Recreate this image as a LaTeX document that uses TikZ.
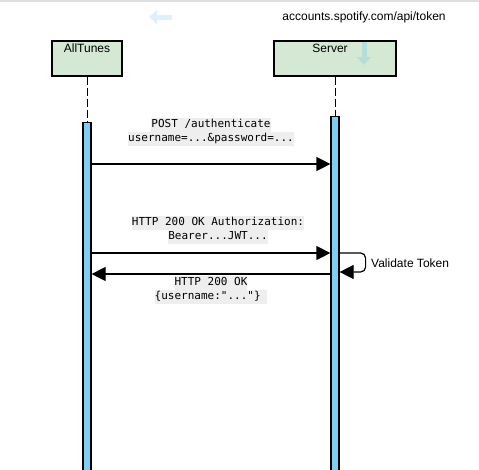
\documentclass[tikz,border=0pt]{standalone}
\usepackage{fontspec}
\setmainfont{Liberation Sans}
\setmonofont{DejaVu Sans Mono}
\usetikzlibrary{arrows.meta, positioning}
\definecolor{actorgreen}{HTML}{D5E8D4}
\definecolor{barblue}{HTML}{7ECEF4}
\definecolor{labelbg}{HTML}{EEEEEE}
\definecolor{hintblue}{HTML}{DDF0FB}
\definecolor{hintteal}{HTML}{B5DFD6}
\setlength{\fboxsep}{0pt}
\newcommand{\msglabel}[1]{\colorbox{labelbg}{\strut #1}}

\begin{document}
\begin{tikzpicture}[x=1pt, y=-1pt,
  actor/.style={draw, line width=1.2pt, fill=actorgreen, minimum width=#1, minimum height=35pt, inner sep=0pt},
  lifebar/.style={draw, line width=1.2pt, fill=barblue, minimum width=8pt, minimum height=370pt, inner sep=0pt, anchor=north},
  msg/.style={line width=1.2pt, -{Triangle[length=14pt, width=14pt]}},
  msgtext/.style={font=\ttfamily\fontsize{11}{14}\selectfont, align=center, inner sep=0pt},
  plain/.style={font=\fontsize{12}{14}\selectfont, inner sep=0pt}]
  \useasboundingbox (0,0) rectangle (479,469);
  \clip (0,0) rectangle (479,469);

  % top edge + faint drag hints
  \draw[gray!25, line width=2pt] (0,1) -- (479,1);
  \draw[hintblue, line width=5pt, -{Triangle[length=8pt, width=14pt]}] (172,17) -- (149,17);

  % Actors
  \node[actor=70pt] (alltunes) at (87,58.5) {};
  \node[actor=122pt] (server) at (335,58.5) {};
  \node[plain] (alltuneslbl) at (87,48) {AllTunes};
  \node[plain] (serverlbl) at (330,48) {Server};
  \draw[hintteal, line width=5pt, -{Triangle[length=8pt, width=14pt]}] (364,42) -- (364,65);
  \node[plain] (urllbl) at (364,17) {accounts.spotify.com/api/token};

  % Lifelines
  \node[lifebar] (alltunesbar) at (87,122) {};
  \node[lifebar] (serverbar) at (335,116) {};
  \draw[line width=1pt, dash pattern=on 8pt off 3pt] (alltunes.south) -- (alltunesbar.north);
  \draw[line width=1pt, dash pattern=on 8pt off 3pt] (server.south) -- (serverbar.north);

  % Messages
  \node[msgtext] (postlbl) at (211,132) {\msglabel{POST /authenticate}\\\msglabel{username=...\&password=...}};
  \draw[msg] (alltunesbar.east |- 0,164) -- (serverbar.west |- 0,164);

  \node[msgtext] (authlbl) at (218,229.5) {\msglabel{HTTP 200 OK Authorization:}\\\msglabel{Bearer...JWT...}};
  \draw[msg] (alltunesbar.east |- 0,253) -- (serverbar.west |- 0,253);

  \draw[msg, rounded corners=5pt] (serverbar.east |- 0,253) -- ++(26,0) -- ++(0,19) -- (serverbar.east |- 0,272);
  \node[plain, anchor=west] (validlbl) at (371,263) {Validate Token};

  \draw[msg] (serverbar.west |- 0,274) -- (alltunesbar.east |- 0,274);
  \node[msgtext] (oklbl) at (211,290) {\msglabel{HTTP 200 OK}\\\msglabel{\{username:"..."\}~}};
\end{tikzpicture}
\end{document}
